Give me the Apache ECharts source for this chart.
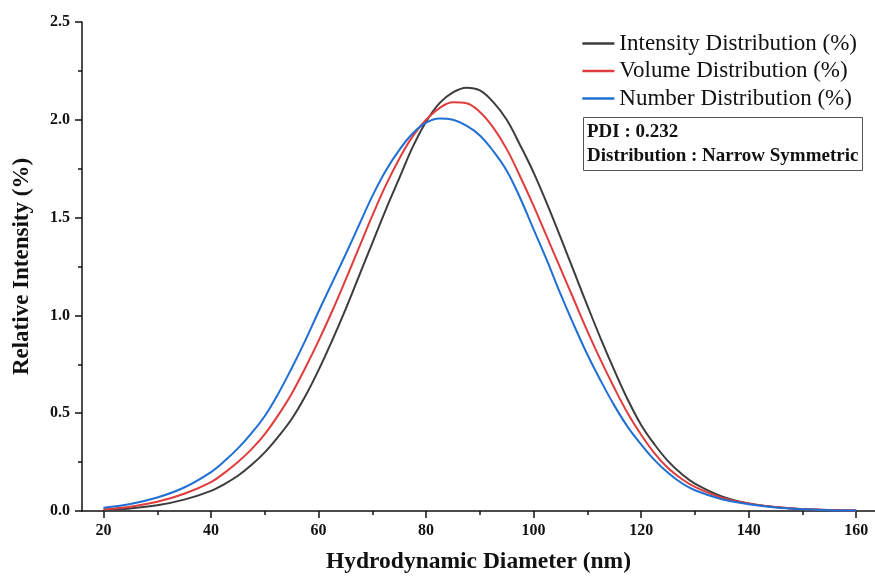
<!DOCTYPE html>
<html>
<head>
<meta charset="utf-8">
<title>DLS size distribution</title>
<script src="https://cdn.jsdelivr.net/npm/echarts@6/dist/echarts.min.js"></script>
<style>
  html, body { margin: 0; padding: 0; background: #ffffff; }
  .Chart_Container { width: 875px; height: 579px; }
</style>
</head>
<body>
<div class="Chart_Container"></div>
<script>
//**************** 数据 ****************//

// 粒径 (nm) //
var diameter = [20, 25, 30, 35, 40, 42.5, 45, 47.5,
  50, 52.5, 55, 57.5, 60, 62.5, 65, 67.5, 70, 72.5, 75, 77.5, 80, 82.5, 85, 87.5,
  90, 92.5, 95, 97.5, 100, 102.5, 105, 107.5, 110, 112.5, 115, 117.5, 120, 122.5, 125, 127.5,
  130, 135, 140, 145, 150, 155, 160];

// 强度分布 (%) //
var intensity_values = [0.005, 0.013, 0.029, 0.058, 0.103, 0.138, 0.18, 0.235,
  0.30, 0.38, 0.47, 0.585, 0.72, 0.87, 1.03, 1.20, 1.37, 1.54, 1.70, 1.86, 1.99, 2.085, 2.14, 2.164,
  2.15, 2.09, 2.00, 1.87, 1.73, 1.57, 1.40, 1.225, 1.05, 0.88, 0.72, 0.57, 0.44, 0.34, 0.255, 0.19,
  0.14, 0.075, 0.039, 0.02, 0.01, 0.005, 0.003];
// 体积分布 (%) //
var volume_values = [0.009, 0.022, 0.047, 0.088, 0.148, 0.195, 0.25, 0.315,
  0.393, 0.49, 0.60, 0.73, 0.87, 1.02, 1.18, 1.345, 1.51, 1.665, 1.80, 1.915, 2.00, 2.06, 2.09, 2.085,
  2.04, 1.96, 1.85, 1.71, 1.56, 1.40, 1.24, 1.08, 0.92, 0.77, 0.63, 0.50, 0.39, 0.295, 0.22, 0.165,
  0.123, 0.068, 0.039, 0.02, 0.01, 0.005, 0.003];
// 数量分布 (%) //
var number_values = [0.017, 0.036, 0.069, 0.12, 0.199, 0.255, 0.32, 0.397,
  0.486, 0.60, 0.73, 0.87, 1.02, 1.165, 1.31, 1.46, 1.61, 1.74, 1.845, 1.93, 1.985, 2.007, 2.00, 1.97,
  1.92, 1.84, 1.74, 1.60, 1.44, 1.28, 1.11, 0.95, 0.80, 0.665, 0.54, 0.43, 0.34, 0.26, 0.195, 0.143,
  0.106, 0.06, 0.035, 0.018, 0.009, 0.004, 0.002];

// 坐标轴刻度 //
var x_major_ticks = [20, 40, 60, 80, 100, 120, 140, 160];
var x_minor_ticks = [30, 50, 70, 90, 110, 130, 150];

var series_names = ["Intensity Distribution (%)", "Volume Distribution (%)", "Number Distribution (%)"];
var series_colors = ["#3d3d3d", "#e03c3c", "#1f6fd4"];
var info_lines = ["PDI : 0.232", "Distribution : Narrow Symmetric"];

//**************** 图表 ****************//

var chart_container = document.querySelector(".Chart_Container");
var chart = echarts.init(chart_container);

function pairs(values) {
  var out = [];
  for (var i = 0; i < diameter.length; i++) {
    out.push([diameter[i], values[i]]);
  }
  return out;
}

var serif_font = "'Liberation Serif', 'Times New Roman', serif";
var all_values = [intensity_values, volume_values, number_values];

var series_list = [];
for (var k = 0; k < series_names.length; k++) {
  series_list.push({
    name: series_names[k],
    type: "line",
    xAxisIndex: 0,
    yAxisIndex: 0,
    data: pairs(all_values[k]),
    smooth: 0.4,
    showSymbol: false,
    lineStyle: { color: series_colors[k], width: 2 },
    itemStyle: { color: series_colors[k] },
    z: 3 + k
  });
}

var option = {
  animation: false,
  backgroundColor: "#ffffff",
  grid: { left: 82, right: 0, top: 22, bottom: 63 },
  legend: {
    orient: "vertical",
    right: 13,
    top: 27,
    icon: "rect",
    itemWidth: 32,
    itemHeight: 2.5,
    itemGap: 4.5,
    data: series_names,
    textStyle: { fontFamily: serif_font, fontSize: 23, color: "#111", lineHeight: 23 }
  },
  xAxis: [
    {
      type: "value",
      position: "bottom",
      min: 16,
      max: 163.5,
      name: "Hydrodynamic Diameter (nm)",
      nameLocation: "middle",
      nameGap: 39,
      nameTextStyle: { fontFamily: serif_font, fontWeight: "bold", fontSize: 23.5, color: "#111" },
      axisLine: { lineStyle: { color: "#111", width: 1.5 } },
      axisTick: { length: 7, customValues: x_major_ticks, lineStyle: { color: "#111", width: 1.5 } },
      axisLabel: { customValues: x_major_ticks, margin: 12, fontFamily: serif_font, fontWeight: "bold", fontSize: 16, color: "#111" },
      splitLine: { show: false }
    },
    {
      type: "value",
      position: "bottom",
      min: 16,
      max: 163.5,
      axisLine: { show: false },
      axisTick: { length: 4, customValues: x_minor_ticks, lineStyle: { color: "#111", width: 1.5 } },
      axisLabel: { show: false },
      splitLine: { show: false }
    }
  ],
  yAxis: {
    type: "value",
    min: 0,
    max: 2.5,
    interval: 0.5,
    name: "Relative Intensity (%)",
    nameLocation: "middle",
    nameGap: 48,
    nameTextStyle: { fontFamily: serif_font, fontWeight: "bold", fontSize: 23, color: "#111" },
    axisLine: { show: true, lineStyle: { color: "#111", width: 1.5 } },
    axisTick: { show: true, length: 7, lineStyle: { color: "#111", width: 1.5 } },
    minorTick: { show: true, splitNumber: 2, length: 4, lineStyle: { color: "#111", width: 1.5 } },
    axisLabel: {
      margin: 12,
      fontFamily: serif_font,
      fontWeight: "bold",
      fontSize: 16,
      color: "#111",
      formatter: function (v) { return v.toFixed(1); }
    },
    splitLine: { show: false }
  },
  graphic: [
    {
      type: "rect",
      left: 583,
      top: 117,
      shape: { width: 279, height: 53 },
      style: { fill: "#ffffff", stroke: "#555", lineWidth: 1 },
      z: 10
    },
    {
      type: "text",
      left: 587,
      top: 123,
      style: { text: info_lines[0], fontFamily: serif_font, fontWeight: "bold", fontSize: 19, fill: "#111" },
      z: 11
    },
    {
      type: "text",
      left: 587,
      top: 147,
      style: { text: info_lines[1], fontFamily: serif_font, fontWeight: "bold", fontSize: 19, fill: "#111" },
      z: 11
    }
  ],
  series: series_list
};

chart.setOption(option);
</script>
</body>
</html>
